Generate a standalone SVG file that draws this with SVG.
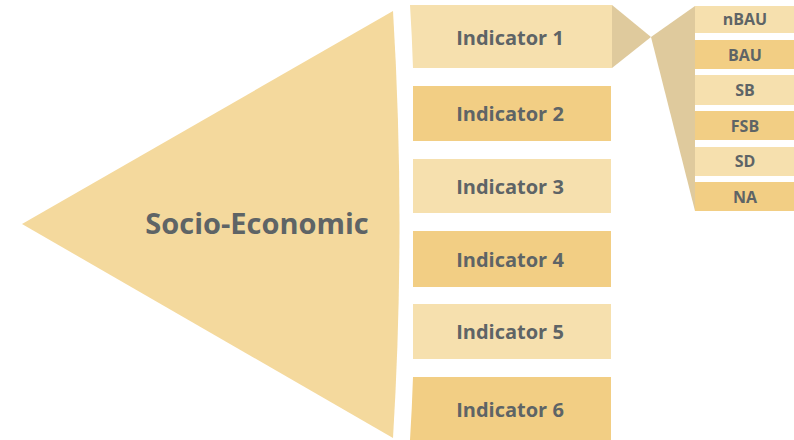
<svg xmlns="http://www.w3.org/2000/svg" width="794" height="440" viewBox="0 0 794 440">
  <style>
    .light { fill: #F6E0AE; }
    .dark { fill: #F2CE84; }
    .tone { fill: #DFCA9D; }
    .big { fill: #F4D99D; }
    .lbl { font-family: "Open Sans", Lato, sans-serif; font-weight: bold; fill: #5E6466; text-anchor: middle; dominant-baseline: central; }
    .ind { font-size: 20px; }
    .sub { font-size: 16px; }
  </style>

  <!-- main category wedge -->
  <g id="socio-economic">
    <path class="big" d="M22,224 L393,11 Q406,224 393,438 Z"/>
    <text class="lbl" x="257" y="222" font-size="29">Socio-Economic</text>
  </g>

  <!-- indicators -->
  <g id="indicator-1">
    <path class="light" d="M410,5 L612,5 L612,68 L413,68 Q412,36 410,5 Z"/>
    <text class="lbl ind" x="510" y="37">Indicator 1</text>
  </g>
  <g id="indicator-2">
    <rect class="dark" x="413" y="86" width="198" height="55"/>
    <text class="lbl ind" x="510" y="113">Indicator 2</text>
  </g>
  <g id="indicator-3">
    <rect class="light" x="413" y="159" width="198" height="54"/>
    <text class="lbl ind" x="510" y="186">Indicator 3</text>
  </g>
  <g id="indicator-4">
    <rect class="dark" x="413" y="231" width="198" height="56"/>
    <text class="lbl ind" x="510" y="259">Indicator 4</text>
  </g>
  <g id="indicator-5">
    <rect class="light" x="413" y="304" width="198" height="55"/>
    <text class="lbl ind" x="510" y="331">Indicator 5</text>
  </g>
  <g id="indicator-6">
    <path class="dark" d="M413,377 L611,377 L611,440 L410,440 Q412,408 413,377 Z"/>
    <text class="lbl ind" x="510" y="409">Indicator 6</text>
  </g>

  <!-- expansion of Indicator 1 into scenarios -->
  <g id="connectors">
    <path class="tone" d="M612,5 L651,37 L612,68 Z"/>
    <path class="tone" d="M651,37 L695,6 L695,211 Z"/>
  </g>

  <!-- scenarios -->
  <g id="nbau">
    <rect class="light" x="695" y="6" width="99" height="27"/>
    <text class="lbl sub" x="745" y="19">nBAU</text>
  </g>
  <g id="bau">
    <rect class="dark" x="695" y="40" width="99" height="29"/>
    <text class="lbl sub" x="745" y="55">BAU</text>
  </g>
  <g id="sb">
    <rect class="light" x="695" y="75" width="99" height="30"/>
    <text class="lbl sub" x="745" y="90">SB</text>
  </g>
  <g id="fsb">
    <rect class="dark" x="695" y="111" width="99" height="29"/>
    <text class="lbl sub" x="745" y="126">FSB</text>
  </g>
  <g id="sd">
    <rect class="light" x="695" y="147" width="99" height="29"/>
    <text class="lbl sub" x="745" y="161">SD</text>
  </g>
  <g id="na">
    <rect class="dark" x="695" y="182" width="99" height="29"/>
    <text class="lbl sub" x="745" y="197">NA</text>
  </g>
</svg>
